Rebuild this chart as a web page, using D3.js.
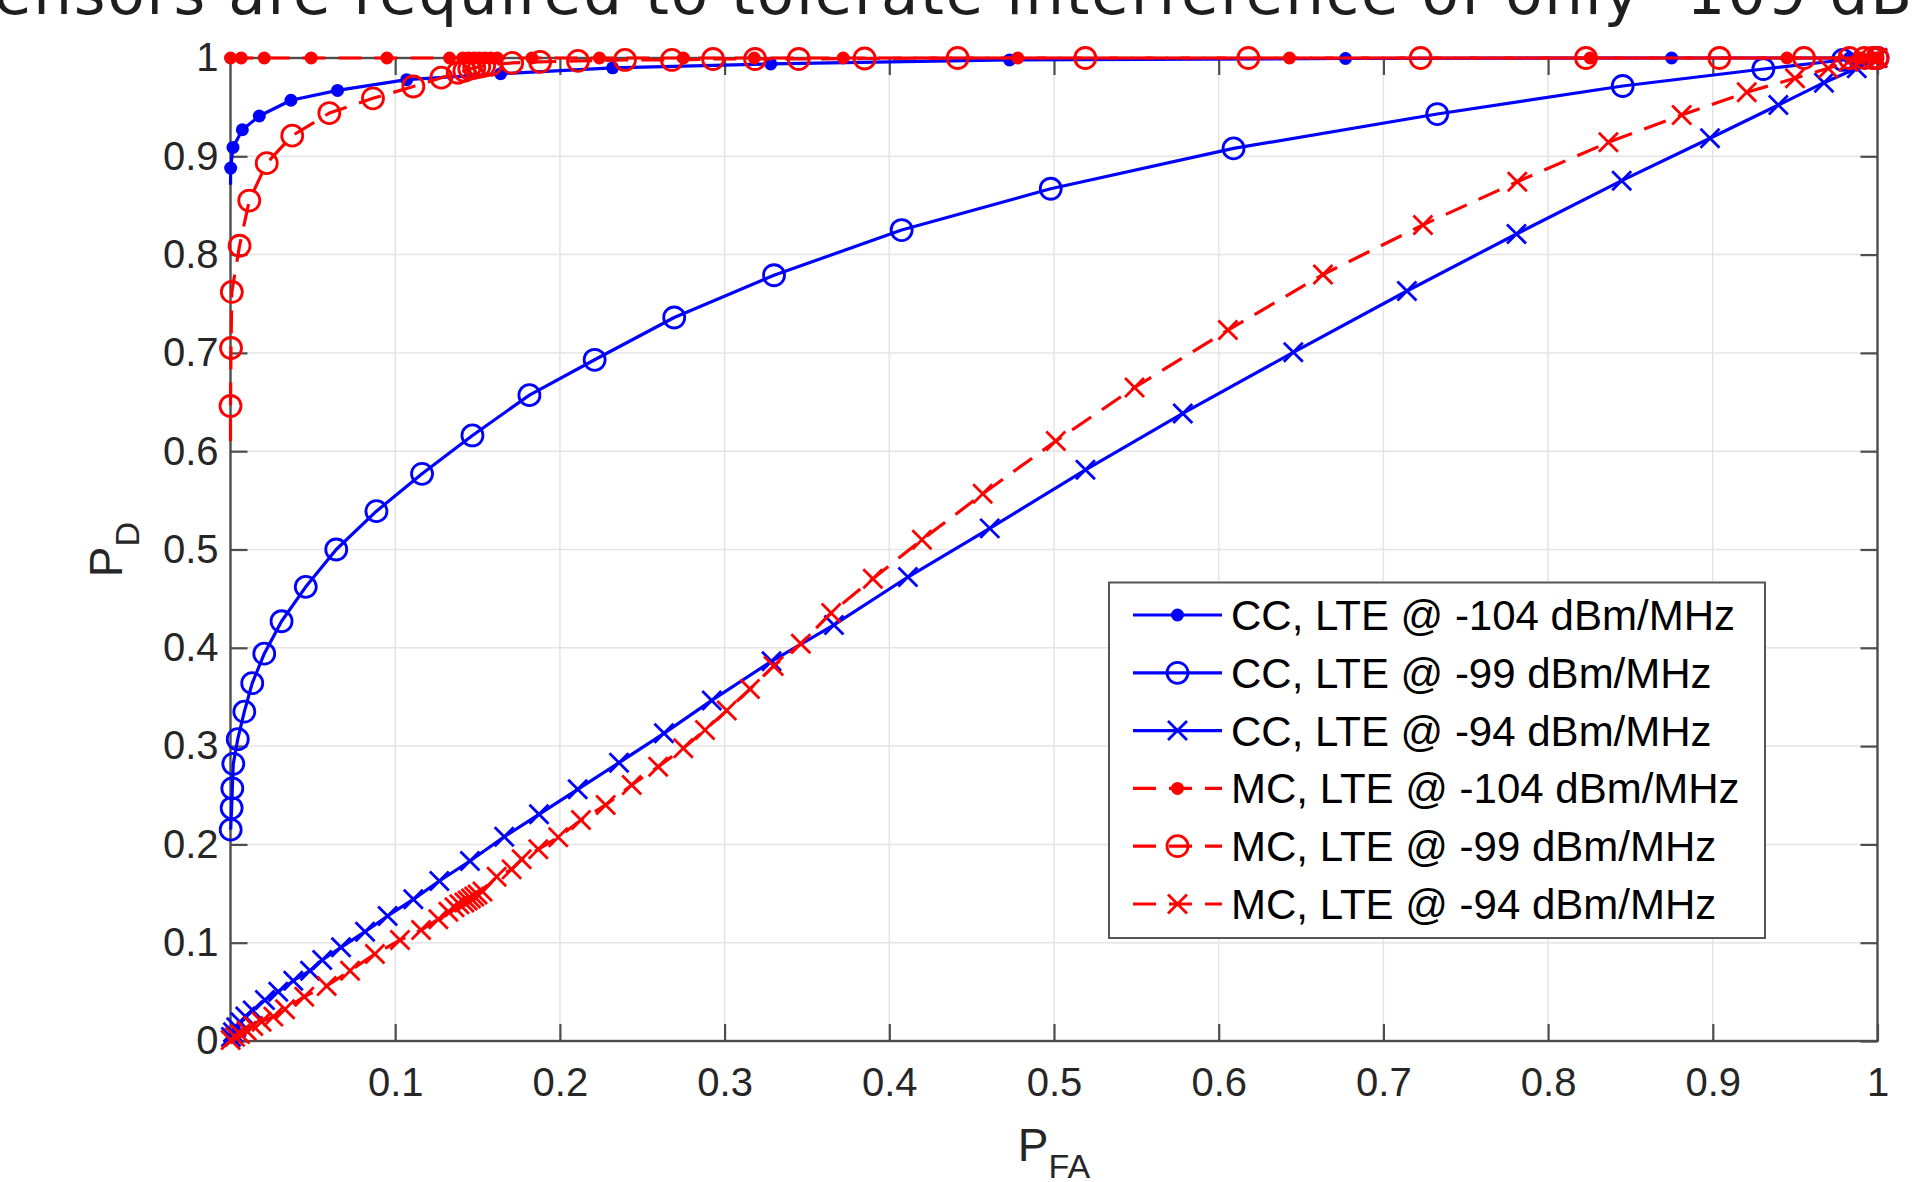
<!DOCTYPE html>
<html>
<head>
<meta charset="utf-8">
<script src="https://cdn.jsdelivr.net/npm/d3@7"></script>
<style>
  html, body { margin: 0; padding: 0; background: #ffffff; overflow: hidden; }
  svg { display: block; }
</style>
</head>
<body>
<svg id="chart" width="1921" height="1182"></svg>
<script>
// ---- data: ROC curves, P_D versus P_FA ----
const xTickValues = [0.1, 0.2, 0.3, 0.4, 0.5, 0.6, 0.7, 0.8, 0.9, 1];
const yTickValues = [0, 0.1, 0.2, 0.3, 0.4, 0.5, 0.6, 0.7, 0.8, 0.9, 1];

const seriesLabels = [
  "CC, LTE @ -104 dBm/MHz",
  "CC, LTE @ -99 dBm/MHz",
  "CC, LTE @ -94 dBm/MHz",
  "MC, LTE @ -104 dBm/MHz",
  "MC, LTE @ -99 dBm/MHz",
  "MC, LTE @ -94 dBm/MHz"
];

// CC detector, -104 dBm/MHz (curve starts below the first marker)
const ccM104Start = [0, 0.871];
const ccM104 = [
  [0.0001, 0.888], [0.0015, 0.909], [0.0072, 0.927], [0.0175, 0.941], [0.0367, 0.957],
  [0.065, 0.967], [0.107, 0.978], [0.164, 0.984], [0.232, 0.990], [0.328, 0.994],
  [0.473, 0.998], [0.677, 0.9995], [0.875, 1.0], [0.983, 1.0], [1.0, 1.0]
];

// CC detector, -99 dBm/MHz
const ccM99 = [
  [0.0001, 0.215], [0.0007, 0.237], [0.0011, 0.257], [0.0017, 0.282], [0.0044, 0.307],
  [0.0084, 0.335], [0.0132, 0.364], [0.0205, 0.394], [0.031, 0.427], [0.0457, 0.462],
  [0.0642, 0.500], [0.0886, 0.539], [0.1163, 0.577], [0.1469, 0.616], [0.1815, 0.657],
  [0.2211, 0.693], [0.2694, 0.736], [0.330, 0.779], [0.4075, 0.825], [0.498, 0.867],
  [0.609, 0.908], [0.7327, 0.943], [0.8453, 0.9715], [0.9307, 0.9888], [0.979, 0.998],
  [1.0, 1.0]
];

// CC detector, -94 dBm/MHz
const ccM94 = [
  [0.0003, 0.004], [0.0015, 0.009], [0.0035, 0.014], [0.006, 0.019], [0.009, 0.025],
  [0.0135, 0.031], [0.0209, 0.0417], [0.029, 0.0502], [0.0381, 0.0613], [0.0483, 0.0715],
  [0.0557, 0.0824], [0.0671, 0.0953], [0.0817, 0.1112], [0.0954, 0.1272], [0.111, 0.1441],
  [0.1268, 0.1628], [0.1454, 0.1831], [0.1662, 0.2078], [0.1873, 0.2306], [0.2108, 0.256],
  [0.2359, 0.2831], [0.2632, 0.313], [0.2922, 0.3465], [0.3285, 0.3863], [0.3664, 0.4233],
  [0.4113, 0.472], [0.461, 0.5215], [0.5191, 0.5811], [0.5782, 0.6384], [0.6453, 0.7006],
  [0.7143, 0.763], [0.7808, 0.821], [0.8447, 0.8752], [0.8983, 0.9183], [0.9398, 0.9522],
  [0.9675, 0.9749], [0.9874, 0.9895], [1.0, 1.0]
];

// MC detector, -104 dBm/MHz
const mcM104 = [
  [0, 1], [0.0065, 1], [0.0205, 1], [0.049, 1], [0.095, 1], [0.133, 1], [0.141, 1],
  [0.1445, 1], [0.148, 1], [0.151, 1], [0.1545, 1], [0.158, 1], [0.162, 1], [0.183, 1],
  [0.224, 1], [0.275, 1], [0.318, 1], [0.372, 1], [0.478, 1], [0.643, 1], [0.8255, 1],
  [0.945, 1], [0.99, 1], [0.997, 1], [1.0, 1]
];

// MC detector, -99 dBm/MHz (curve starts below the first marker)
const mcM99Start = [0, 0.610];
const mcM99 = [
  [0, 0.646], [0.0003, 0.705], [0.0008, 0.762], [0.0055, 0.809], [0.0114, 0.855],
  [0.022, 0.893], [0.0375, 0.921], [0.060, 0.944], [0.0865, 0.959], [0.111, 0.971],
  [0.128, 0.980], [0.138, 0.985], [0.142, 0.987], [0.145, 0.989], [0.148, 0.990],
  [0.151, 0.991], [0.154, 0.992], [0.158, 0.993], [0.171, 0.995], [0.188, 0.996],
  [0.211, 0.997], [0.2395, 0.998], [0.268, 0.998], [0.293, 0.999], [0.3185, 0.999],
  [0.345, 0.999], [0.385, 0.9995], [0.4415, 1], [0.519, 1], [0.618, 1], [0.7226, 1],
  [0.823, 1], [0.904, 1], [0.9554, 1], [0.983, 1], [0.992, 1], [0.997, 1], [1, 1]
];

// MC detector, -94 dBm/MHz
const mcM94 = [
  [0.0001, 0.001], [0.0027, 0.0044], [0.0058, 0.0071], [0.0098, 0.0105], [0.0138, 0.0153],
  [0.0189, 0.0196], [0.026, 0.0248], [0.0331, 0.0322], [0.0448, 0.0451], [0.0584, 0.056],
  [0.0726, 0.0715], [0.0877, 0.0885], [0.1029, 0.1027], [0.1157, 0.1129], [0.1262, 0.1238],
  [0.1323, 0.1315], [0.136, 0.136], [0.139, 0.139], [0.142, 0.141], [0.144, 0.143],
  [0.146, 0.145], [0.148, 0.147], [0.150, 0.149], [0.153, 0.152], [0.1616, 0.1671],
  [0.1707, 0.1746], [0.1768, 0.1848], [0.1869, 0.195], [0.199, 0.2072], [0.2128, 0.2248],
  [0.2278, 0.2401], [0.2436, 0.2604], [0.2597, 0.279], [0.2749, 0.2978], [0.2881, 0.3164],
  [0.3013, 0.3361], [0.3154, 0.358], [0.3298, 0.3815], [0.3463, 0.4042], [0.3647, 0.4355],
  [0.39, 0.4703], [0.4198, 0.5099], [0.4567, 0.5566], [0.5011, 0.6103], [0.5489, 0.6648],
  [0.6056, 0.7232], [0.6633, 0.7797], [0.724, 0.8302], [0.7813, 0.8742], [0.8366, 0.9142],
  [0.8811, 0.942], [0.9206, 0.9651], [0.9499, 0.9794], [0.9701, 0.9895], [0.9823, 0.9962],
  [1, 1]
];

// ---- drawing ----
const BLUE = "#0000ff", RED = "#ff0000";
const series = [
  { label: seriesLabels[0], data: ccM104, start: ccM104Start, color: BLUE, dashed: false, marker: "dot" },
  { label: seriesLabels[1], data: ccM99, start: null, color: BLUE, dashed: false, marker: "circle" },
  { label: seriesLabels[2], data: ccM94, start: null, color: BLUE, dashed: false, marker: "cross" },
  { label: seriesLabels[3], data: mcM104, start: null, color: RED, dashed: true, marker: "dot" },
  { label: seriesLabels[4], data: mcM99, start: mcM99Start, color: RED, dashed: true, marker: "circle" },
  { label: seriesLabels[5], data: mcM94, start: null, color: RED, dashed: true, marker: "cross" }
];

const svg = d3.select("#chart");
const FONT = "'Liberation Sans', Arial, sans-serif";
const AXIS_COLOR = "#4d4d4d";
const TEXT_COLOR = "#262626";
const DASH = "23,13";
const LINE_W = 3.2;

const x = d3.scaleLinear().domain([0, 1]).range([230.5, 1877.5]);
const y = d3.scaleLinear().domain([0, 1]).range([1041, 58]);

// sentence from the surrounding page, cut by the top edge
svg.append("text")
  .attr("x", -6).attr("y", 14)
  .attr("textLength", 1918).attr("lengthAdjust", "spacing")
  .attr("font-family", "'DejaVu Sans', Verdana, sans-serif")
  .attr("font-size", 61)
  .attr("fill", "#1e1e1e")
  .text("ensors are required to tolerate interference of only -109 dB");

// grid
const grid = svg.append("g").attr("stroke", "#e4e4e4").attr("stroke-width", 1.5);
grid.selectAll("line.gx").data(xTickValues.filter(d => d < 1)).join("line")
  .attr("x1", d => x(d)).attr("x2", d => x(d)).attr("y1", y(0)).attr("y2", y(1));
grid.selectAll("line.gy").data(yTickValues.filter(d => d > 0 && d < 1)).join("line")
  .attr("x1", x(0)).attr("x2", x(1)).attr("y1", d => y(d)).attr("y2", d => y(d));

const fmt = d => String(+d.toFixed(1));
const TICK = 17;

function styleAxis(g) {
  g.select(".domain").remove();
  g.selectAll(".tick line").attr("stroke", AXIS_COLOR).attr("stroke-width", 2.2);
  g.selectAll(".tick text").attr("fill", TEXT_COLOR).attr("font-family", FONT).attr("font-size", 40);
}

svg.append("g").attr("transform", `translate(0,${y(0)})`)
  .call(d3.axisBottom(x).tickValues(xTickValues).tickSizeInner(-TICK).tickSizeOuter(0).tickPadding(27).tickFormat(fmt))
  .call(styleAxis);
svg.append("g").attr("transform", `translate(${x(0)},0)`)
  .call(d3.axisLeft(y).tickValues(yTickValues).tickSizeInner(-TICK).tickSizeOuter(0).tickPadding(12).tickFormat(fmt))
  .call(styleAxis);
svg.append("g").attr("transform", `translate(0,${y(1)})`)
  .call(d3.axisTop(x).tickValues(xTickValues).tickSizeInner(-TICK).tickSizeOuter(0).tickFormat(""))
  .call(styleAxis);
svg.append("g").attr("transform", `translate(${x(1)},0)`)
  .call(d3.axisRight(y).tickValues(yTickValues).tickSizeInner(-TICK).tickSizeOuter(0).tickFormat(""))
  .call(styleAxis);

svg.append("rect")
  .attr("x", x(0)).attr("y", y(1))
  .attr("width", x(1) - x(0)).attr("height", y(0) - y(1))
  .attr("fill", "none").attr("stroke", AXIS_COLOR).attr("stroke-width", 2.4);

// axis labels
svg.append("text")
  .attr("x", (x(0) + x(1)) / 2).attr("y", 1161)
  .attr("text-anchor", "middle")
  .attr("font-family", FONT).attr("font-size", 46).attr("fill", TEXT_COLOR)
  .call(t => {
    t.append("tspan").text("P");
    t.append("tspan").attr("font-size", 34).attr("dy", 17).text("FA");
  });
svg.append("text")
  .attr("transform", `translate(122,${(y(0) + y(1)) / 2}) rotate(-90)`)
  .attr("text-anchor", "middle")
  .attr("font-family", FONT).attr("font-size", 46).attr("fill", TEXT_COLOR)
  .call(t => {
    t.append("tspan").text("P");
    t.append("tspan").attr("font-size", 34).attr("dy", 17).text("D");
  });

// marker shapes
function drawMarker(g, kind, color) {
  if (kind === "dot") {
    g.append("circle").attr("r", 6.5).attr("fill", color);
  } else if (kind === "circle") {
    g.append("circle").attr("r", 10.5).attr("fill", "none").attr("stroke", color).attr("stroke-width", 2.8);
  } else {
    const s = 9.5;
    g.append("path").attr("d", `M${-s},${-s}L${s},${s}M${-s},${s}L${s},${-s}`)
      .attr("fill", "none").attr("stroke", color).attr("stroke-width", 2.8);
  }
}

const line = d3.line().x(d => x(d[0])).y(d => y(d[1]));

series.forEach(s => {
  const g = svg.append("g");
  const pts = s.start ? [s.start].concat(s.data) : s.data;
  g.append("path").attr("d", line(pts))
    .attr("fill", "none").attr("stroke", s.color).attr("stroke-width", LINE_W)
    .attr("stroke-linejoin", "round")
    .attr("stroke-dasharray", s.dashed ? DASH : null);
  g.selectAll("g.m").data(s.data).join("g")
    .attr("transform", d => `translate(${x(d[0])},${y(d[1])})`)
    .each(function () { drawMarker(d3.select(this), s.marker, s.color); });
});

// legend
const legend = svg.append("g");
legend.append("rect")
  .attr("x", 1109).attr("y", 582.5).attr("width", 656).attr("height", 355.5)
  .attr("fill", "#ffffff").attr("stroke", "#555555").attr("stroke-width", 2);
series.forEach((s, i) => {
  const cy = 615 + i * 57.8;
  const row = legend.append("g");
  row.append("path").attr("d", `M1133,${cy}H1222`)
    .attr("stroke", s.color).attr("stroke-width", LINE_W)
    .attr("stroke-dasharray", s.dashed ? DASH : null);
  drawMarker(row.append("g").attr("transform", `translate(1177.5,${cy})`), s.marker, s.color);
  row.append("text").attr("x", 1231).attr("y", cy + 15)
    .attr("font-family", FONT).attr("font-size", 42).attr("fill", "#000000")
    .text(s.label);
});
</script>
</body>
</html>
